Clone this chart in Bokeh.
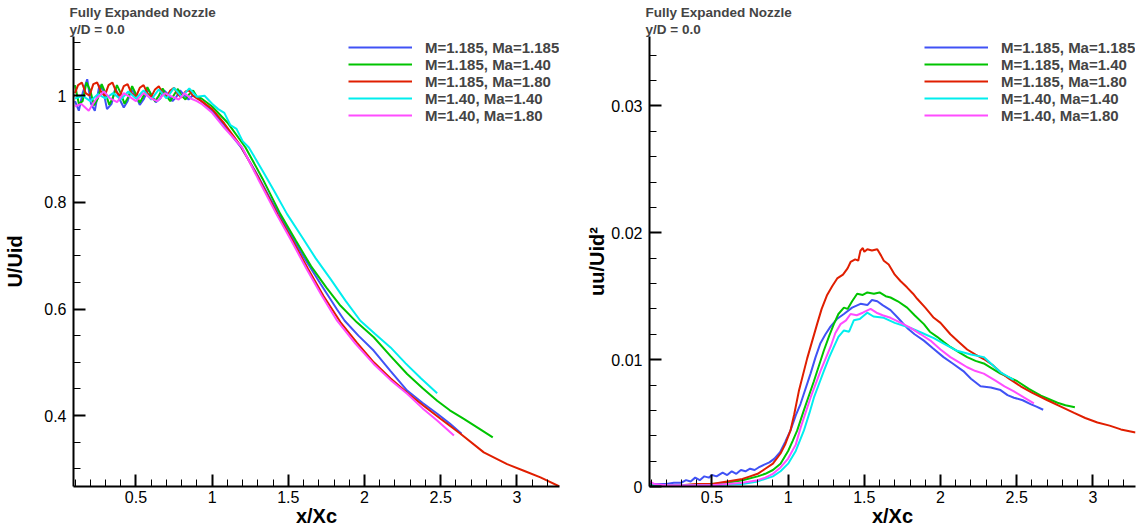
from bokeh.plotting import figure
from bokeh.models import (Legend, LegendItem, Title, FixedTicker, Range1d,
                          CustomJSTickFormatter)
from bokeh.layouts import row
from bokeh.embed import file_html
from bokeh.resources import INLINE

# ---------------- data ----------------
series_labels = ["M=1.185, Ma=1.185", "M=1.185, Ma=1.40", "M=1.185, Ma=1.80",
                 "M=1.40, Ma=1.40", "M=1.40, Ma=1.80"]
series_colors = ["#4052f5", "#00c400", "#e01e00", "#00eeee", "#ff4cff"]

x_ticks = [0.5, 1, 1.5, 2, 2.5, 3]
x_minor = [round(0.1 * i, 1) for i in range(1, 33)]
u_ticks = [0.4, 0.6, 0.8, 1]
u_minor = [round(0.3 + 0.05 * i, 2) for i in range(0, 17)]
uu_ticks = [0, 0.01, 0.02, 0.03]
uu_minor = [round(0.002 * i, 3) for i in range(0, 18)]

# Left panel: U/Uid along the centreline
u_x_blue = [0.10, 0.125, 0.15, 0.18, 0.205, 0.23, 0.26, 0.285, 0.31, 0.34, 0.365, 0.39, 0.42, 0.445,
            0.47, 0.50, 0.525, 0.55, 0.58, 0.605, 0.63, 0.66, 0.685, 0.71, 0.74, 0.765, 0.79, 0.82,
            0.845, 0.87, 0.90, 0.93, 0.97, 1.00, 1.04, 1.08, 1.13, 1.19, 1.25, 1.30, 1.37, 1.44,
            1.50, 1.60, 1.71, 1.82, 1.87, 1.96, 2.06, 2.17, 2.28, 2.38, 2.48, 2.56, 2.637]
u_y_blue = [0.99, 0.972, 1.005, 1.031, 0.985, 0.972, 1.02, 1.01, 0.975, 0.985, 1.015, 0.995, 0.978, 0.99,
            1.012, 1.0, 0.983, 0.993, 1.012, 1.0, 0.988, 0.995, 1.01, 1.003, 0.99, 0.998, 1.01, 1.0,
            0.993, 1.0, 0.998, 0.99, 0.98, 0.972, 0.958, 0.945, 0.925, 0.903, 0.875, 0.85, 0.813, 0.778,
            0.747, 0.698, 0.648, 0.599, 0.578, 0.55, 0.522, 0.484, 0.447, 0.424, 0.403, 0.385, 0.366]

u_x_green = [0.10, 0.125, 0.15, 0.175, 0.20, 0.225, 0.25, 0.275, 0.30, 0.325, 0.35, 0.375, 0.40, 0.425,
             0.45, 0.475, 0.50, 0.525, 0.55, 0.575, 0.60, 0.625, 0.65, 0.675, 0.70, 0.725, 0.75, 0.775,
             0.80, 0.825, 0.85, 0.875, 0.90, 0.93, 1.00, 1.10, 1.219, 1.33, 1.448, 1.55, 1.65, 1.75,
             1.843, 1.95, 2.061, 2.17, 2.28, 2.38, 2.477, 2.56, 2.652, 2.75, 2.842]
u_y_green = [1.02, 0.985, 0.99, 1.025, 1.01, 0.982, 0.995, 1.022, 1.005, 0.983, 0.998, 1.02, 1.005, 0.985,
             0.998, 1.018, 1.003, 0.987, 1.0, 1.016, 1.002, 0.99, 1.0, 1.014, 1.0, 0.99, 1.002, 1.013,
             1.0, 0.993, 1.003, 1.01, 0.998, 0.995, 0.98, 0.95, 0.903, 0.845, 0.778, 0.728, 0.68, 0.64,
             0.606, 0.575, 0.547, 0.512, 0.478, 0.452, 0.428, 0.41, 0.394, 0.376, 0.359]

u_x_red = [0.10, 0.12, 0.145, 0.17, 0.195, 0.22, 0.245, 0.27, 0.295, 0.32, 0.345, 0.37, 0.395, 0.42,
           0.445, 0.47, 0.50, 0.525, 0.55, 0.575, 0.60, 0.625, 0.65, 0.675, 0.70, 0.725, 0.75, 0.775,
           0.80, 0.825, 0.85, 0.875, 0.90, 0.93, 1.00, 1.08, 1.19, 1.30, 1.43, 1.53, 1.63, 1.73,
           1.843, 1.95, 2.061, 2.17, 2.28, 2.39, 2.499, 2.63, 2.783, 2.936, 3.05, 3.155, 3.28]
u_y_red = [1.005, 1.02, 1.025, 1.005, 1.0, 1.022, 1.025, 1.008, 1.0, 1.02, 1.025, 1.008, 1.0, 1.018,
           1.022, 1.005, 0.998, 1.015, 1.02, 1.005, 0.998, 1.012, 1.018, 1.005, 0.997, 1.01, 1.015, 1.003,
           0.997, 1.008, 1.01, 1.0, 0.995, 0.99, 0.975, 0.948, 0.905, 0.848, 0.777, 0.727, 0.675, 0.625,
           0.575, 0.537, 0.5, 0.47, 0.443, 0.418, 0.394, 0.366, 0.331, 0.309, 0.296, 0.284, 0.267]

u_x_cyan = [0.10, 0.15, 0.20, 0.25, 0.30, 0.35, 0.40, 0.45, 0.50, 0.55, 0.60, 0.65, 0.70, 0.75,
            0.80, 0.85, 0.90, 0.95, 1.00, 1.04, 1.08, 1.12, 1.16, 1.20, 1.241, 1.33, 1.41, 1.492,
            1.59, 1.68, 1.78, 1.875, 1.973, 2.07, 2.171, 2.27, 2.37, 2.477]
u_y_cyan = [0.995, 1.0, 0.99, 1.003, 0.995, 1.005, 0.993, 1.008, 0.995, 1.01, 0.993, 1.012, 0.995, 1.015,
            0.998, 1.014, 0.998, 1.0, 0.985, 0.975, 0.968, 0.945, 0.938, 0.915, 0.903, 0.86, 0.82, 0.778,
            0.735, 0.695, 0.655, 0.6156, 0.578, 0.553, 0.528, 0.498, 0.47, 0.442]

u_x_magenta = [0.10, 0.14, 0.19, 0.24, 0.29, 0.33, 0.376, 0.42, 0.46, 0.50, 0.55, 0.60, 0.64, 0.69,
               0.74, 0.78, 0.82, 0.86, 0.90, 0.93, 1.00, 1.08, 1.197, 1.30, 1.422, 1.52, 1.62, 1.72,
               1.82, 1.94, 2.06, 2.17, 2.28, 2.38, 2.477, 2.587]
u_y_magenta = [0.98, 0.985, 0.972, 0.995, 1.008, 0.995, 0.988, 1.005, 0.998, 0.99, 1.005, 0.995, 0.99, 1.005,
               0.998, 0.993, 1.005, 0.995, 0.99, 0.985, 0.968, 0.94, 0.903, 0.845, 0.778, 0.728, 0.675, 0.625,
               0.578, 0.535, 0.497, 0.467, 0.441, 0.414, 0.391, 0.3625]

# Right panel: uu/Uid^2 along the centreline
uu_x_blue = [0.09, 0.15, 0.20, 0.25, 0.30, 0.33, 0.36, 0.39, 0.42, 0.45, 0.48, 0.50, 0.53, 0.57, 0.60,
             0.63, 0.66, 0.69, 0.72, 0.75, 0.78, 0.806, 0.84, 0.877, 0.91, 0.947, 0.98, 1.015, 1.05,
             1.081, 1.147, 1.18, 1.212, 1.245, 1.278, 1.32, 1.366, 1.42, 1.475, 1.52, 1.55, 1.585,
             1.62, 1.672, 1.72, 1.781, 1.83, 1.891, 1.95, 2.02, 2.08, 2.15, 2.20, 2.263, 2.33, 2.394,
             2.44, 2.482, 2.54, 2.591, 2.63, 2.674]
uu_y_blue = [0.0002, 0.0002, 0.0002, 0.0003, 0.0003, 0.0005, 0.0004, 0.0007, 0.0005, 0.0008, 0.0007, 0.0009,
             0.0008, 0.0011, 0.0009, 0.0012, 0.0010, 0.0013, 0.0012, 0.0014, 0.0013, 0.0015, 0.0017, 0.0019,
             0.0022, 0.0027, 0.0035, 0.0044, 0.0056, 0.0065, 0.0089, 0.0102, 0.0113, 0.0120, 0.0126, 0.0132,
             0.0136, 0.0141, 0.0144, 0.0143, 0.0147, 0.0146, 0.0143, 0.0139, 0.0133, 0.0125, 0.0120, 0.0115,
             0.0109, 0.0102, 0.0097, 0.0091, 0.0085, 0.0079, 0.0078, 0.0076, 0.0072, 0.0070, 0.0068, 0.0065,
             0.0063, 0.00605]

uu_x_green = [0.09, 0.3, 0.5, 0.6, 0.7, 0.8, 0.85, 0.9, 0.95, 1.0, 1.03, 1.059, 1.103, 1.169, 1.234,
              1.27, 1.3, 1.33, 1.366, 1.39, 1.42, 1.453, 1.49, 1.52, 1.563, 1.6, 1.64, 1.672, 1.72,
              1.781, 1.83, 1.891, 1.93, 1.978, 2.02, 2.065, 2.12, 2.175, 2.23, 2.284, 2.34, 2.394,
              2.45, 2.504, 2.58, 2.659, 2.71, 2.768, 2.82, 2.882]
uu_y_green = [0.0001, 0.0001, 0.0002, 0.0003, 0.0005, 0.0008, 0.0010, 0.0013, 0.0018, 0.0028, 0.0036, 0.0044,
              0.0060, 0.0083, 0.0107, 0.0119, 0.0128, 0.0136, 0.0141, 0.0140, 0.0146, 0.0152, 0.0151, 0.0153,
              0.0152, 0.0153, 0.0150, 0.0149, 0.0146, 0.0141, 0.0135, 0.0128, 0.0122, 0.0118, 0.0114, 0.0110,
              0.0106, 0.0102, 0.0099, 0.0097, 0.0093, 0.0089, 0.0086, 0.0083, 0.0077, 0.00716, 0.0069, 0.0066,
              0.0064, 0.00624]

uu_x_red = [0.09, 0.2, 0.3, 0.4, 0.5, 0.6, 0.7, 0.75, 0.8, 0.85, 0.9, 0.95, 0.98, 1.015, 1.04, 1.07,
            1.125, 1.19, 1.22, 1.256, 1.29, 1.322, 1.36, 1.39, 1.41, 1.44, 1.46, 1.475, 1.49, 1.50,
            1.52, 1.55, 1.585, 1.61, 1.628, 1.66, 1.70, 1.737, 1.78, 1.82, 1.847, 1.9, 1.956, 2.0,
            2.065, 2.12, 2.175, 2.23, 2.284, 2.34, 2.394, 2.45, 2.526, 2.6, 2.702, 2.79, 2.877, 2.95,
            3.03, 3.11, 3.184, 3.28]
uu_y_red = [0.0001, 0.0001, 0.0001, 0.0002, 0.0002, 0.0004, 0.0006, 0.0008, 0.0010, 0.0014, 0.0018, 0.0026,
            0.0033, 0.0044, 0.0057, 0.0075, 0.0101, 0.0128, 0.0140, 0.0151, 0.0158, 0.0164, 0.0167, 0.0172,
            0.0177, 0.0179, 0.0178, 0.0186, 0.0188, 0.0185, 0.0187, 0.0186, 0.0187, 0.0182, 0.0178, 0.0175,
            0.0167, 0.0162, 0.0157, 0.0152, 0.0148, 0.0141, 0.0133, 0.0129, 0.0120, 0.0114, 0.0108, 0.0104,
            0.01005, 0.0096, 0.0090, 0.0085, 0.0079, 0.0074, 0.0068, 0.0063, 0.0058, 0.0054, 0.00505, 0.0048,
            0.0045, 0.00425]

uu_x_cyan = [0.09, 0.5, 0.7, 0.8, 0.9, 0.95, 1.0, 1.05, 1.103, 1.14, 1.169, 1.2, 1.234, 1.27, 1.3,
             1.33, 1.366, 1.40, 1.431, 1.47, 1.519, 1.56, 1.628, 1.70, 1.803, 1.88, 1.956, 2.03,
             2.109, 2.2, 2.284, 2.34, 2.394, 2.48]
uu_y_cyan = [0.0001, 0.0001, 0.0002, 0.0004, 0.0008, 0.0012, 0.0018, 0.0028, 0.0044, 0.0058, 0.0070, 0.0080,
             0.0091, 0.0102, 0.0110, 0.0118, 0.0123, 0.0122, 0.0131, 0.0132, 0.0137, 0.0134, 0.0133, 0.0129,
             0.0125, 0.0121, 0.0117, 0.0112, 0.0107, 0.0104, 0.0102, 0.0096, 0.0090, 0.0084]

uu_x_magenta = [0.09, 0.12, 0.2, 0.5, 0.6, 0.7, 0.8, 0.85, 0.9, 0.95, 1.0, 1.05, 1.081, 1.147, 1.212,
                1.278, 1.31, 1.344, 1.38, 1.41, 1.45, 1.49, 1.541, 1.58, 1.62, 1.672, 1.74, 1.803, 1.87,
                1.934, 2.0, 2.065, 2.12, 2.175, 2.23, 2.284, 2.361, 2.42, 2.482, 2.55, 2.613]
uu_y_magenta = [0.0004, 0.0002, 0.0001, 0.0001, 0.0002, 0.0003, 0.0005, 0.0007, 0.0010, 0.0015, 0.0022, 0.0033,
                0.0046, 0.0070, 0.0091, 0.0110, 0.0121, 0.0128, 0.0131, 0.0136, 0.0135, 0.0137, 0.0140, 0.0137,
                0.0135, 0.0133, 0.0129, 0.0125, 0.0120, 0.0115, 0.0108, 0.0102, 0.0098, 0.0094, 0.0091, 0.0089,
                0.00834, 0.0079, 0.0075, 0.0070, 0.00655]

u_series = [(u_x_blue, u_y_blue), (u_x_green, u_y_green), (u_x_red, u_y_red),
            (u_x_cyan, u_y_cyan), (u_x_magenta, u_y_magenta)]
uu_series = [(uu_x_blue, uu_y_blue), (uu_x_green, uu_y_green), (uu_x_red, uu_y_red),
             (uu_x_cyan, uu_y_cyan), (uu_x_magenta, uu_y_magenta)]

FONT = "Liberation Sans"
fmt = CustomJSTickFormatter(code="return String(Math.round(tick*10000)/10000);")
FIG_H = 529


def style_axis(ax, ticks, minor, label, label_standoff, tick_standoff):
    ax.ticker = FixedTicker(ticks=ticks, minor_ticks=minor)
    ax.formatter = fmt
    ax.axis_label = label
    ax.axis_label_text_font = FONT
    ax.axis_label_text_font_size = "20px"
    ax.axis_label_text_font_style = "bold"
    ax.axis_label_text_color = "black"
    ax.axis_label_standoff = label_standoff
    ax.major_label_text_font = FONT
    ax.major_label_text_font_size = "16px"
    ax.major_label_text_color = "black"
    ax.major_label_standoff = tick_standoff
    ax.axis_line_width = 2
    ax.axis_line_color = "black"
    ax.major_tick_in = 12
    ax.major_tick_out = 0
    ax.major_tick_line_width = 2
    ax.major_tick_line_color = "black"
    ax.minor_tick_in = 7
    ax.minor_tick_out = 0
    ax.minor_tick_line_width = 1
    ax.minor_tick_line_color = "black"


def make_panel(series, y_range, y_ticks, y_minor, y_label, width, left, right, y_label_standoff):
    p = figure(width=width, height=FIG_H, x_range=Range1d(0.09, 3.28), y_range=Range1d(*y_range),
               output_backend="svg", toolbar_location=None,
               min_border_left=left, min_border_right=right, min_border_top=36, min_border_bottom=0)
    p.grid.visible = False
    p.outline_line_color = None
    p.background_fill_color = "white"
    p.border_fill_color = "white"
    style_axis(p.xaxis[0], x_ticks, x_minor, "x/Xc", -1, 4)
    style_axis(p.yaxis[0], y_ticks, y_minor, y_label, y_label_standoff, 7)

    p.title.text = "Fully Expanded Nozzle"
    p.title.text_font = FONT
    p.title.text_font_size = "13.5px"
    p.title.text_font_style = "bold"
    p.title.text_line_height = 0.85
    p.title.align = "left"
    p.title.offset = -4
    p.title.standoff = 0
    p.add_layout(Title(text="y/D = 0.0", text_font=FONT, text_font_size="13.5px",
                       text_font_style="bold", text_line_height=0.85, align="left",
                       offset=-4, standoff=0), "above")

    renderers = []
    for (xs, ys), c in zip(series, series_colors):
        renderers.append(p.line(xs, ys, line_color=c, line_width=2))
    items = [LegendItem(label=lab, renderers=[r]) for lab, r in zip(series_labels, renderers)]
    lg = Legend(items=items, location=(275, 362.5), border_line_alpha=0, background_fill_alpha=0,
                label_text_font=FONT, label_text_font_size="15px", label_text_font_style="bold",
                glyph_width=64, glyph_height=14, label_height=14, spacing=0, padding=0, margin=0,
                label_standoff=13)
    p.add_layout(lg)
    return p


# y ranges extended slightly above the top tick so the legend fits inside the frame
p1 = make_panel(u_series, (0.267, 1.11125), u_ticks, u_minor, "U/Uid", 583, 73, 24, 15)
p2 = make_panel(uu_series, (0.0, 0.035474), uu_ticks, uu_minor, "uu/Uid²", 554, 66, 2, 0)

layout = row(p1, p2)
open("out.html", "w").write(file_html(layout, INLINE))
